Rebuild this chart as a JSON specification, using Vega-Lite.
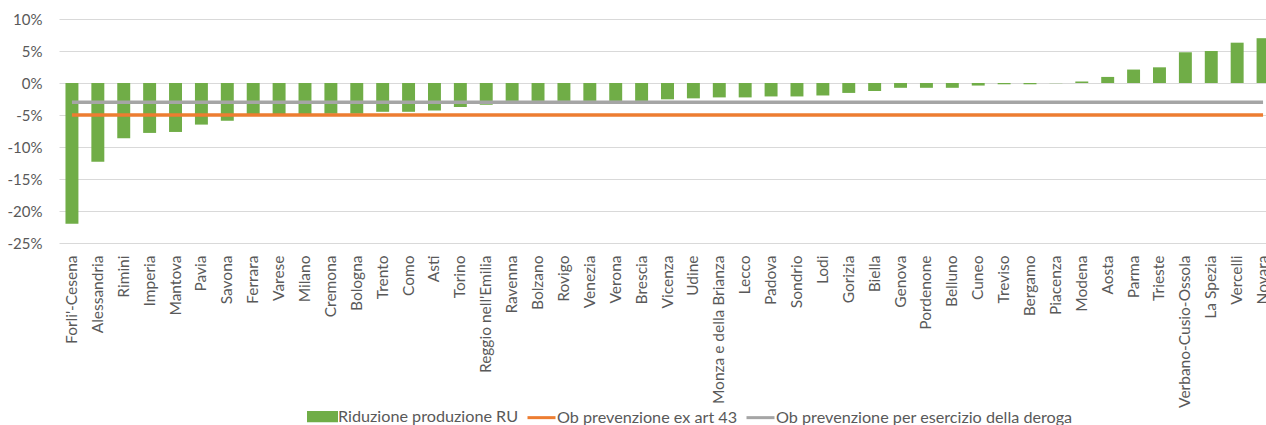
{
  "$schema": "https://vega.github.io/schema/vega-lite/v6.json",
  "autosize": {"type": "none"},
  "width": 1207,
  "height": 224,
  "padding": {"left": 59, "top": 19, "right": 0, "bottom": 182},
  "background": "white",
  "config": {
    "view": {"stroke": null},
    "font": "Lato",
    "axis": {"labelOverlap": false},
    "axisY": {"labelOverlap": false, "labelBound": false, "labelFlush": false}
  },
  "data": {
    "values": [
      {"provincia": "Forli'-Cesena", "riduzione": -0.220, "ob_art43": -0.05, "ob_deroga": -0.03},
      {"provincia": "Alessandria", "riduzione": -0.123, "ob_art43": -0.05, "ob_deroga": -0.03},
      {"provincia": "Rimini", "riduzione": -0.0865, "ob_art43": -0.05, "ob_deroga": -0.03},
      {"provincia": "Imperia", "riduzione": -0.078, "ob_art43": -0.05, "ob_deroga": -0.03},
      {"provincia": "Mantova", "riduzione": -0.0765, "ob_art43": -0.05, "ob_deroga": -0.03},
      {"provincia": "Pavia", "riduzione": -0.065, "ob_art43": -0.05, "ob_deroga": -0.03},
      {"provincia": "Savona", "riduzione": -0.059, "ob_art43": -0.05, "ob_deroga": -0.03},
      {"provincia": "Ferrara", "riduzione": -0.0515, "ob_art43": -0.05, "ob_deroga": -0.03},
      {"provincia": "Varese", "riduzione": -0.0515, "ob_art43": -0.05, "ob_deroga": -0.03},
      {"provincia": "Milano", "riduzione": -0.049, "ob_art43": -0.05, "ob_deroga": -0.03},
      {"provincia": "Cremona", "riduzione": -0.048, "ob_art43": -0.05, "ob_deroga": -0.03},
      {"provincia": "Bologna", "riduzione": -0.048, "ob_art43": -0.05, "ob_deroga": -0.03},
      {"provincia": "Trento", "riduzione": -0.045, "ob_art43": -0.05, "ob_deroga": -0.03},
      {"provincia": "Como", "riduzione": -0.045, "ob_art43": -0.05, "ob_deroga": -0.03},
      {"provincia": "Asti", "riduzione": -0.043, "ob_art43": -0.05, "ob_deroga": -0.03},
      {"provincia": "Torino", "riduzione": -0.0375, "ob_art43": -0.05, "ob_deroga": -0.03},
      {"provincia": "Reggio nell'Emilia", "riduzione": -0.034, "ob_art43": -0.05, "ob_deroga": -0.03},
      {"provincia": "Ravenna", "riduzione": -0.028, "ob_art43": -0.05, "ob_deroga": -0.03},
      {"provincia": "Bolzano", "riduzione": -0.028, "ob_art43": -0.05, "ob_deroga": -0.03},
      {"provincia": "Rovigo", "riduzione": -0.028, "ob_art43": -0.05, "ob_deroga": -0.03},
      {"provincia": "Venezia", "riduzione": -0.028, "ob_art43": -0.05, "ob_deroga": -0.03},
      {"provincia": "Verona", "riduzione": -0.028, "ob_art43": -0.05, "ob_deroga": -0.03},
      {"provincia": "Brescia", "riduzione": -0.028, "ob_art43": -0.05, "ob_deroga": -0.03},
      {"provincia": "Vicenza", "riduzione": -0.0255, "ob_art43": -0.05, "ob_deroga": -0.03},
      {"provincia": "Udine", "riduzione": -0.024, "ob_art43": -0.05, "ob_deroga": -0.03},
      {"provincia": "Monza e della Brianza", "riduzione": -0.0225, "ob_art43": -0.05, "ob_deroga": -0.03},
      {"provincia": "Lecco", "riduzione": -0.0225, "ob_art43": -0.05, "ob_deroga": -0.03},
      {"provincia": "Padova", "riduzione": -0.021, "ob_art43": -0.05, "ob_deroga": -0.03},
      {"provincia": "Sondrio", "riduzione": -0.021, "ob_art43": -0.05, "ob_deroga": -0.03},
      {"provincia": "Lodi", "riduzione": -0.0195, "ob_art43": -0.05, "ob_deroga": -0.03},
      {"provincia": "Gorizia", "riduzione": -0.0155, "ob_art43": -0.05, "ob_deroga": -0.03},
      {"provincia": "Biella", "riduzione": -0.0125, "ob_art43": -0.05, "ob_deroga": -0.03},
      {"provincia": "Genova", "riduzione": -0.0075, "ob_art43": -0.05, "ob_deroga": -0.03},
      {"provincia": "Pordenone", "riduzione": -0.0075, "ob_art43": -0.05, "ob_deroga": -0.03},
      {"provincia": "Belluno", "riduzione": -0.0075, "ob_art43": -0.05, "ob_deroga": -0.03},
      {"provincia": "Cuneo", "riduzione": -0.004, "ob_art43": -0.05, "ob_deroga": -0.03},
      {"provincia": "Treviso", "riduzione": -0.002, "ob_art43": -0.05, "ob_deroga": -0.03},
      {"provincia": "Bergamo", "riduzione": -0.002, "ob_art43": -0.05, "ob_deroga": -0.03},
      {"provincia": "Piacenza", "riduzione": -0.0003, "ob_art43": -0.05, "ob_deroga": -0.03},
      {"provincia": "Modena", "riduzione": 0.0025, "ob_art43": -0.05, "ob_deroga": -0.03},
      {"provincia": "Aosta", "riduzione": 0.0095, "ob_art43": -0.05, "ob_deroga": -0.03},
      {"provincia": "Parma", "riduzione": 0.021, "ob_art43": -0.05, "ob_deroga": -0.03},
      {"provincia": "Trieste", "riduzione": 0.0245, "ob_art43": -0.05, "ob_deroga": -0.03},
      {"provincia": "Verbano-Cusio-Ossola", "riduzione": 0.048, "ob_art43": -0.05, "ob_deroga": -0.03},
      {"provincia": "La Spezia", "riduzione": 0.050, "ob_art43": -0.05, "ob_deroga": -0.03},
      {"provincia": "Vercelli", "riduzione": 0.063, "ob_art43": -0.05, "ob_deroga": -0.03},
      {"provincia": "Novara", "riduzione": 0.070, "ob_art43": -0.05, "ob_deroga": -0.03}
    ]
  },
  "encoding": {
    "x": {
      "field": "provincia",
      "type": "nominal",
      "sort": null,
      "scale": {"range": [0, 1217], "paddingInner": 0.5, "paddingOuter": 0.25},
      "axis": {
        "title": null,
        "domain": false,
        "ticks": false,
        "labelAngle": -90,
        "labelPadding": 12,
        "labelFont": "Lato",
        "labelFontSize": 15.5,
        "labelColor": "#595959",
        "labelLimit": 300,
        "labelOverlap": false
      }
    },
    "y": {
      "type": "quantitative",
      "scale": {"domain": [-0.25, 0.1], "nice": false, "zero": true},
      "axis": {
        "title": null,
        "values": [-0.25, -0.2, -0.15, -0.1, -0.05, 0, 0.05, 0.1],
        "labelExpr": "(datum.value < -0.0001 ? '-' : '') + format(abs(datum.value), '.0%')",
        "labelOverlap": false,
        "labelBound": false,
        "domain": false,
        "ticks": false,
        "tickSize": 0,
        "labelPadding": 17,
        "labelFont": "Lato",
        "labelFontSize": 15,
        "labelColor": "#595959",
        "grid": true,
        "gridColor": "#d9d9d9",
        "gridWidth": 1
      }
    }
  },
  "layer": [
    {
      "mark": {"type": "bar", "color": "#70ad47"},
      "encoding": {
        "y": {"field": "riduzione"},
        "color": {
          "datum": "Riduzione produzione RU",
          "scale": {
            "domain": ["Riduzione produzione RU", "Ob prevenzione ex art 43", "Ob prevenzione per esercizio della deroga"],
            "range": ["#70ad47", "#ed7d31", "#a5a5a5"]
          },
          "legend": {
            "title": null,
            "orient": "none",
            "legendX": 248,
            "legendY": 382,
            "direction": "horizontal",
            "labelFont": "Lato",
            "labelFontSize": 16.2,
            "labelColor": "#595959",
            "labelOffset": 0,
            "columnPadding": 2,
            "symbolSize": 784,
            "labelLimit": 400,
            "encode": {
              "symbols": {
                "update": {
                  "shape": {"signal": "datum.value === 'Riduzione produzione RU' ? 'M-1,-0.3H1V0.3H-1Z' : 'M-1,0H1'"},
                  "fill": {"signal": "datum.value === 'Riduzione produzione RU' ? '#70ad47' : 'transparent'"},
                  "stroke": {"signal": "datum.value === 'Riduzione produzione RU' ? 'transparent' : (datum.value === 'Ob prevenzione ex art 43' ? '#ed7d31' : '#a5a5a5')"},
                  "strokeWidth": {"value": 3},
                  "opacity": {"value": 1}
                }
              }
            }
          }
        }
      }
    },
    {
      "mark": {"type": "line", "strokeWidth": 3.5},
      "encoding": {
        "y": {"field": "ob_art43"},
        "color": {"datum": "Ob prevenzione ex art 43"}
      }
    },
    {
      "mark": {"type": "line", "strokeWidth": 3.5},
      "encoding": {
        "y": {"field": "ob_deroga"},
        "color": {"datum": "Ob prevenzione per esercizio della deroga"}
      }
    }
  ]
}
